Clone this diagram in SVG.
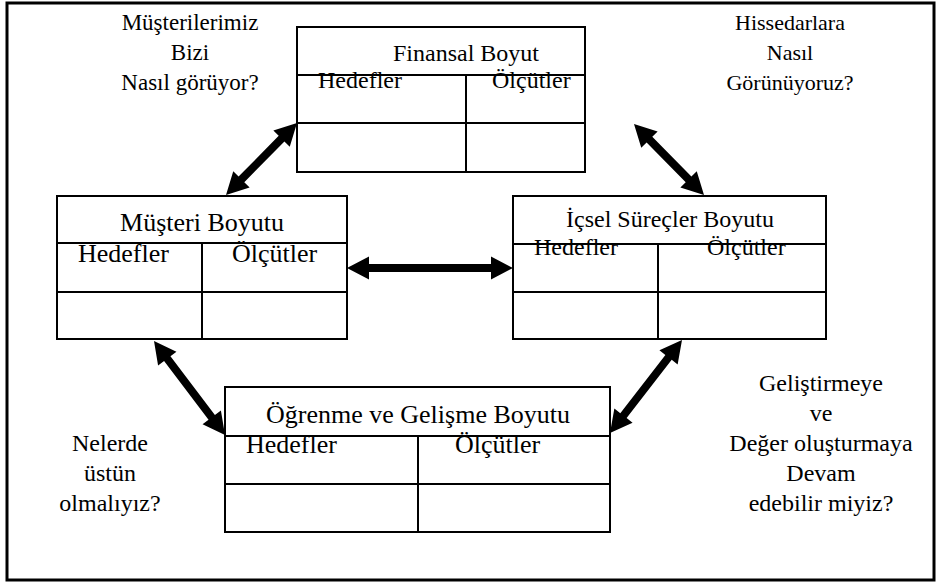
<svg xmlns="http://www.w3.org/2000/svg" width="938" height="582" viewBox="0 0 938 582">
<defs>
<style>
.frame{fill:#fff;stroke:#000;stroke-width:3}
.box{fill:#fff;stroke:#000;stroke-width:2}
.ln{stroke:#000;stroke-width:2}
.arr{fill:#000;stroke:none}
</style>
</defs>
<rect x="0" y="0" width="938" height="582" fill="#fff"/>
<rect class="frame" x="7" y="3" width="927" height="577"/>

<g id="connectors">
<polygon class="arr" points="226,195 249.63,187.41 244.29,182.15 284.41,141.47 289.75,146.73 297,123 273.37,130.59 278.71,135.85 238.59,176.53 233.25,171.27"/>
<polygon class="arr" points="634,124 641.25,147.73 646.59,142.47 685.71,182.15 680.37,187.41 704,195 696.75,171.27 691.41,176.53 652.29,136.85 657.63,131.59"/>
<polygon class="arr" points="347,268 369,279.5 369,272 491,272 491,279.5 513,268 491,256.5 491,264 369,264 369,256.5"/>
<polygon class="arr" points="154,341 158.09,365.49 164.08,360.97 208.54,419.85 202.55,424.37 225,435 220.91,410.51 214.92,415.03 170.46,356.15 176.45,351.63"/>
<polygon class="arr" points="682,340 659.44,350.36 665.38,354.95 620.30,413.15 614.36,408.56 610,433 632.56,422.64 626.62,418.05 671.70,359.85 677.64,364.44"/>
</g>

<g id="finansal">
<rect class="box" x="297" y="27" width="288" height="145"/>
<line class="ln" x1="297" y1="75" x2="585" y2="75"/>
<line class="ln" x1="297" y1="123" x2="585" y2="123"/>
<line class="ln" x1="466" y1="75" x2="466" y2="172"/>
<text x="466" y="61" text-anchor="middle" style="font-family:'Liberation Serif','Times New Roman',serif;font-size:24px">Finansal Boyut</text>
<text x="318" y="88" style="font-family:'Liberation Serif','Times New Roman',serif;font-size:24px">Hedefler</text>
<text x="492" y="88" style="font-family:'Liberation Serif','Times New Roman',serif;font-size:24px">Ölçütler</text>
</g>

<g id="musteri">
<rect class="box" x="57" y="196" width="290" height="143"/>
<line class="ln" x1="57" y1="243" x2="347" y2="243"/>
<line class="ln" x1="57" y1="292" x2="347" y2="292"/>
<line class="ln" x1="202" y1="243" x2="202" y2="339"/>
<text x="202" y="231" text-anchor="middle" style="font-family:'Liberation Serif','Times New Roman',serif;font-size:26px">Müşteri Boyutu</text>
<text x="78" y="262" style="font-family:'Liberation Serif','Times New Roman',serif;font-size:26px">Hedefler</text>
<text x="232" y="262" style="font-family:'Liberation Serif','Times New Roman',serif;font-size:26px">Ölçütler</text>
</g>

<g id="icsel">
<rect class="box" x="513" y="196" width="313" height="143"/>
<line class="ln" x1="513" y1="244" x2="826" y2="244"/>
<line class="ln" x1="513" y1="292" x2="826" y2="292"/>
<line class="ln" x1="658" y1="244" x2="658" y2="339"/>
<text x="670" y="227" text-anchor="middle" style="font-family:'Liberation Serif','Times New Roman',serif;font-size:24px">İçsel Süreçler Boyutu</text>
<text x="534" y="255" style="font-family:'Liberation Serif','Times New Roman',serif;font-size:24px">Hedefler</text>
<text x="707" y="255" style="font-family:'Liberation Serif','Times New Roman',serif;font-size:24px">Ölçütler</text>
</g>

<g id="ogrenme">
<rect class="box" x="225" y="387" width="385" height="145"/>
<line class="ln" x1="225" y1="436" x2="610" y2="436"/>
<line class="ln" x1="225" y1="484" x2="610" y2="484"/>
<line class="ln" x1="418" y1="436" x2="418" y2="532"/>
<text x="418" y="423" text-anchor="middle" style="font-family:'Liberation Serif','Times New Roman',serif;font-size:26px">Öğrenme ve Gelişme Boyutu</text>
<text x="246" y="453" style="font-family:'Liberation Serif','Times New Roman',serif;font-size:26px">Hedefler</text>
<text x="455" y="453" style="font-family:'Liberation Serif','Times New Roman',serif;font-size:26px">Ölçütler</text>
</g>

<g id="q-musteri">
<text text-anchor="middle" style="font-family:'Liberation Serif','Times New Roman',serif;font-size:23px"><tspan x="190" y="30">Müşterilerimiz</tspan><tspan x="190" y="60">Bizi</tspan><tspan x="190" y="90">Nasıl görüyor?</tspan></text>
</g>
<g id="q-hissedar">
<text text-anchor="middle" style="font-family:'Liberation Serif','Times New Roman',serif;font-size:22px"><tspan x="790" y="30">Hissedarlara</tspan><tspan x="790" y="60">Nasıl</tspan><tspan x="790" y="90">Görünüyoruz?</tspan></text>
</g>
<g id="q-ustun">
<text text-anchor="middle" style="font-family:'Liberation Serif','Times New Roman',serif;font-size:24px"><tspan x="110" y="451">Nelerde</tspan><tspan x="110" y="481">üstün</tspan><tspan x="110" y="511">olmalıyız?</tspan></text>
</g>
<g id="q-gelistirme">
<text text-anchor="middle" style="font-family:'Liberation Serif','Times New Roman',serif;font-size:24px"><tspan x="821" y="391">Geliştirmeye</tspan><tspan x="821" y="421">ve</tspan><tspan x="821" y="451">Değer oluşturmaya</tspan><tspan x="821" y="481">Devam</tspan><tspan x="821" y="511">edebilir miyiz?</tspan></text>
</g>
</svg>
